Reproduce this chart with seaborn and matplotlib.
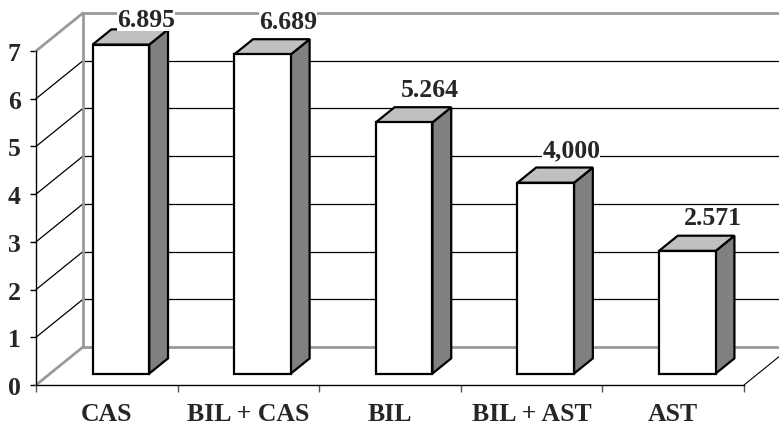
import matplotlib
matplotlib.use("Agg")
import matplotlib.pyplot as plt
import matplotlib.transforms as mtransforms
from matplotlib.patches import Polygon
import seaborn as sns
import pandas as pd

# ---- data ----
categories = ["CAS", "BIL + CAS", "BIL", "BIL + AST", "AST"]
values = [6.895, 6.689, 5.264, 4.000, 2.571]
value_labels = ["6.895", "6.689", "5.264", "4,000", "2.571"]
yticks = [0, 1, 2, 3, 4, 5, 6, 7]

df = pd.DataFrame({"cat": categories, "val": values})

sns.set_style("white")
plt.rcParams["font.family"] = ["Liberation Serif", "DejaVu Serif"]
plt.rcParams["font.weight"] = "bold"

W, H = 779, 427
fig = plt.figure(figsize=(W / 100, H / 100), dpi=100)
# axes = front plane of the 3D box
ax = fig.add_axes([36 / W, (H - 386) / H, 708 / W, 334 / H])

# depth vector (full depth of the box) in data units
DX, DY = 0.332, 0.797
F0, F1 = 0.30, 0.70  # bar front / back depth fractions
GRAY = "#9a9a9a"
FS = 18.5

sns.barplot(data=df, x="cat", y="val", order=categories, color="white",
            edgecolor="black", linewidth=1.6, width=0.4, ax=ax,
            saturation=1, zorder=5)
ax.set_xlim(-0.5, len(categories) - 0.5)
ax.set_ylim(0, 7)

xl, xr = -0.5, len(categories) - 0.5
ymax = yticks[-1]

# ---- walls ----
for k in yticks:
    col, lw = ("black", 0.9) if 0 < k < ymax else (GRAY, 2.0)
    ax.plot([xl + DX, xr + DX], [k + DY, k + DY], color=col, lw=lw,
            clip_on=False, zorder=1, solid_capstyle="butt")
    ax.plot([xl, xl + DX], [k, k + DY], color=col, lw=lw, clip_on=False,
            zorder=1)
ax.plot([xl + DX, xl + DX], [DY, ymax + DY], color=GRAY, lw=2.0,
        clip_on=False, zorder=1)
ax.plot([xr, xr + DX], [0, DY], color="black", lw=0.8, clip_on=False,
        zorder=1)

# ---- 3D bars ----
shift = mtransforms.Affine2D().translate(F0 * DX, F0 * DY) + ax.transData
bd = F1 - F0
for p in ax.patches:
    x0, w, h = p.get_x(), p.get_width(), p.get_height()
    p.set_transform(shift)
    p.set_clip_on(False)
    side = Polygon([(x0 + w, 0), (x0 + w, h), (x0 + w + bd * DX, h + bd * DY),
                    (x0 + w + bd * DX, bd * DY)], closed=True,
                   facecolor="#808080", edgecolor="black", lw=1.6,
                   transform=shift, clip_on=False, zorder=4,
                   joinstyle="miter")
    top = Polygon([(x0, h), (x0 + w, h), (x0 + w + bd * DX, h + bd * DY),
                   (x0 + bd * DX, h + bd * DY)], closed=True,
                  facecolor="#c0c0c0", edgecolor="black", lw=1.6,
                  transform=shift, clip_on=False, zorder=4,
                  joinstyle="miter")
    ax.add_patch(side)
    ax.add_patch(top)

# ---- value labels ----
for i, (v, lab) in enumerate(zip(values, value_labels)):
    ax.text(i + 0.28, min(v + 0.8, ymax + 0.53), lab, ha="center",
            va="baseline", fontsize=FS, fontweight="bold", zorder=6,
            bbox=dict(facecolor="white", edgecolor="none", pad=0))

# ---- axes styling ----
for s in ["top", "right"]:
    ax.spines[s].set_visible(False)
for s in ["left", "bottom"]:
    ax.spines[s].set_color("black")
    ax.spines[s].set_linewidth(1.0)
ax.set_yticks(yticks)
ax.set_yticklabels([str(t) for t in yticks], fontsize=FS, fontweight="bold")
ax.set_xticks(range(len(categories)))
ax.set_xticklabels(categories, fontsize=FS, fontweight="bold")
ax.set_xticks([i - 0.5 for i in range(len(categories) + 1)], minor=True)
ax.tick_params(axis="x", which="major", length=0, pad=12)
ax.tick_params(axis="x", which="minor", length=5, width=1.0, color="#555555",
               direction="out", bottom=True)
ax.tick_params(axis="y", length=4, width=1.0, color="black", direction="out",
               pad=7, left=True)
ax.set_xlabel("")
ax.set_ylabel("")
ax.set_facecolor("none")
ax.patch.set_alpha(0)

fig.savefig("out.png", dpi=100, facecolor="white")
